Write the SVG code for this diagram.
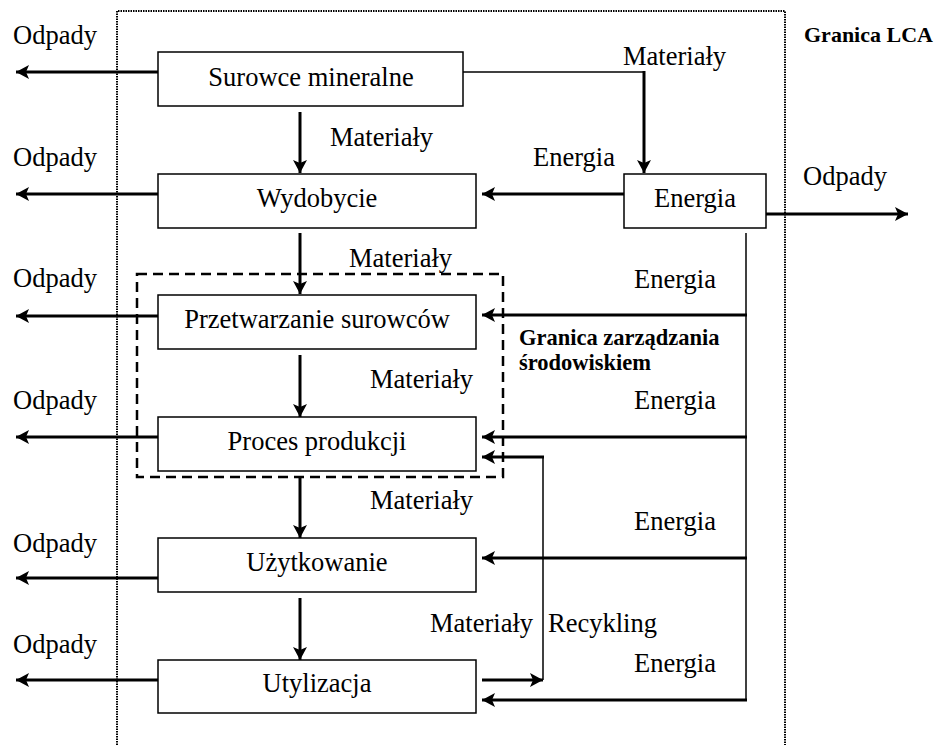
<svg xmlns="http://www.w3.org/2000/svg" width="951" height="745" viewBox="0 0 951 745">
<defs>
<marker id="ah" markerUnits="userSpaceOnUse" markerWidth="14" markerHeight="14" viewBox="0 0 14 14" refX="13" refY="7" orient="auto">
<path d="M0,0 L13,7 L0,14 L3,7 Z" fill="#000"/>
</marker>
</defs>
<style>
.box{fill:#fff;stroke:#000;stroke-width:1.5}
text{font-family:"Liberation Serif","Times New Roman",Tinos,"DejaVu Serif",serif;fill:#000}
.t{font-size:26.5px}
.b{font-size:22.5px;font-weight:bold}
.a{fill:none;stroke:#000;stroke-width:3;marker-end:url(#ah)}
.l{fill:none;stroke:#000;stroke-width:1.5}
.dot{fill:none;stroke:#000;stroke-width:2;stroke-dasharray:1.5 1}
.dash{fill:none;stroke:#000;stroke-width:2.5;stroke-dasharray:10 6}
</style>
<rect width="951" height="745" fill="#fff"/>

<g id="lca-boundary">
<path class="dot" d="M117,745 L117,11 L785,11 L785,745"/>
<text class="b" x="804" y="42" style="font-size:22px">Granica LCA</text>
</g>

<g id="env-boundary">
<rect class="dash" x="137" y="274" width="366" height="203"/>
<text class="b" x="519" y="345">Granica zarządzania</text>
<text class="b" x="519" y="370">środowiskiem</text>
</g>

<g id="connectors">
<line class="a" x1="158" y1="72" x2="16" y2="72"/>
<line class="a" x1="158" y1="194" x2="16" y2="194"/>
<line class="a" x1="158" y1="316" x2="16" y2="316"/>
<line class="a" x1="158" y1="437" x2="16" y2="437"/>
<line class="a" x1="158" y1="578" x2="16" y2="578"/>
<line class="a" x1="158" y1="680" x2="16" y2="680"/>
<line class="a" x1="766" y1="214" x2="908" y2="214"/>
<line class="a" x1="300" y1="112" x2="300" y2="173"/>
<line class="a" x1="300" y1="233" x2="300" y2="294"/>
<line class="a" x1="300" y1="355" x2="300" y2="417"/>
<line class="a" x1="300" y1="478" x2="300" y2="538"/>
<line class="a" x1="300" y1="598" x2="300" y2="660"/>
<path class="l" d="M463,72 L644,72"/>
<line class="a" x1="644" y1="71" x2="644" y2="173"/>
<line class="a" x1="624" y1="194" x2="482" y2="194"/>
<path class="l" d="M746,233 L746,701"/>
<line class="a" x1="747" y1="315" x2="482" y2="315"/>
<line class="a" x1="747" y1="437" x2="482" y2="437"/>
<line class="a" x1="747" y1="558" x2="482" y2="558"/>
<line class="a" x1="747" y1="700" x2="482" y2="700"/>
<line class="a" x1="482" y1="680" x2="543" y2="680"/>
<path class="l" d="M543,680 L543,457"/>
<line class="a" x1="544" y1="457" x2="482" y2="457"/>
</g>

<g id="surowce">
<rect class="box" x="158" y="52" width="305" height="54"/>
<text class="t" x="311" y="86" text-anchor="middle">Surowce mineralne</text>
</g>
<g id="wydobycie">
<rect class="box" x="158" y="174" width="318" height="54"/>
<text class="t" x="317" y="207" text-anchor="middle">Wydobycie</text>
</g>
<g id="energia">
<rect class="box" x="624" y="174" width="142" height="54"/>
<text class="t" x="695" y="207" text-anchor="middle">Energia</text>
</g>
<g id="przetwarzanie">
<rect class="box" x="158" y="295" width="318" height="54"/>
<text class="t" x="317" y="328" text-anchor="middle">Przetwarzanie surowców</text>
</g>
<g id="proces">
<rect class="box" x="158" y="417" width="318" height="54"/>
<text class="t" x="317" y="450" text-anchor="middle">Proces produkcji</text>
</g>
<g id="uzytkowanie">
<rect class="box" x="158" y="538" width="318" height="54"/>
<text class="t" x="317" y="571" text-anchor="middle">Użytkowanie</text>
</g>
<g id="utylizacja">
<rect class="box" x="158" y="660" width="318" height="53"/>
<text class="t" x="317" y="692" text-anchor="middle">Utylizacja</text>
</g>

<g id="labels">
<text class="t" x="13" y="44">Odpady</text>
<text class="t" x="13" y="166">Odpady</text>
<text class="t" x="13" y="287">Odpady</text>
<text class="t" x="13" y="409">Odpady</text>
<text class="t" x="13" y="552">Odpady</text>
<text class="t" x="13" y="653">Odpady</text>
<text class="t" x="803" y="185">Odpady</text>
<text class="t" x="330" y="146">Materiały</text>
<text class="t" x="623" y="65">Materiały</text>
<text class="t" x="349" y="267">Materiały</text>
<text class="t" x="370" y="388">Materiały</text>
<text class="t" x="370" y="509">Materiały</text>
<text class="t" x="430" y="632">Materiały</text>
<text class="t" x="548" y="632">Recykling</text>
<text class="t" x="533" y="166">Energia</text>
<text class="t" x="634" y="288">Energia</text>
<text class="t" x="634" y="409">Energia</text>
<text class="t" x="634" y="530">Energia</text>
<text class="t" x="634" y="672">Energia</text>
</g>
</svg>
